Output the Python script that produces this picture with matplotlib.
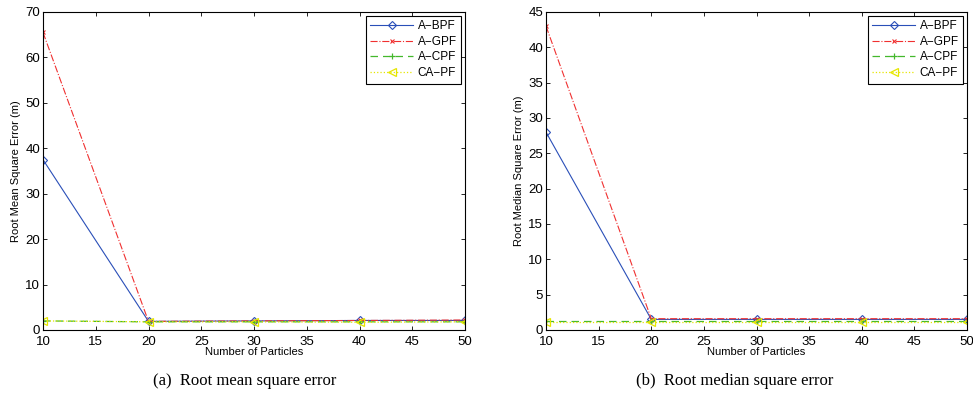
import matplotlib
matplotlib.use('Agg')
from matplotlib import pyplot as plt

# data
particles = [10, 20, 30, 40, 50]

rmse_bpf = [37.5, 1.9, 2.0, 2.1, 2.1]
rmse_gpf = [65.5, 1.9, 2.0, 2.1, 2.2]
rmse_cpf = [2.0, 1.8, 1.8, 1.8, 1.8]
rmse_capf = [2.0, 1.8, 1.8, 1.7, 1.8]

rmdse_bpf = [28.0, 1.5, 1.5, 1.5, 1.5]
rmdse_gpf = [43.0, 1.6, 1.6, 1.6, 1.6]
rmdse_cpf = [1.3, 1.3, 1.3, 1.3, 1.3]
rmdse_capf = [1.2, 1.2, 1.2, 1.2, 1.2]

labels = ['A\u2212BPF', 'A\u2212GPF', 'A\u2212CPF', 'CA\u2212PF']

plt.rcParams['font.family'] = ['Liberation Sans', 'DejaVu Sans']
plt.rcParams['font.size'] = 8

fig = plt.figure(figsize=(9.73, 4.05), dpi=100)
ax1 = fig.add_axes([43 / 973, 75 / 405, 422 / 973, 318 / 405])
ax2 = fig.add_axes([546 / 973, 75 / 405, 421 / 973, 318 / 405])


def draw(ax, bpf, gpf, cpf, capf, ymax, ystep, ylabel):
    ax.plot(particles, bpf, color='#2a4fb8', ls='-', lw=0.8, marker='D',
            mfc='none', ms=4.5, mew=0.8, label=labels[0])
    ax.plot(particles, gpf, color='#f03030', ls='-.', lw=0.8, marker='x',
            ms=3.5, mew=0.8, label=labels[1])
    ax.plot(particles, cpf, color='#44b82c', ls=(0, (6, 4)), lw=0.9, marker='+',
            ms=5, mew=0.9, label=labels[2])
    ax.plot(particles, capf, color='#e6e600', ls=':', lw=0.9, marker='<',
            mfc='none', ms=6, mew=0.9, label=labels[3])
    ax.set_xlim(10, 50)
    ax.set_ylim(0, ymax)
    ax.set_xticks(range(10, 51, 5))
    ax.set_yticks(range(0, ymax + 1, ystep))
    ax.tick_params(direction='in', length=3, width=0.6, top=True, right=True,
                   labelsize=9.5)
    ax.tick_params(axis='x', pad=4.5)
    ax.tick_params(axis='y', pad=2)
    for s in ax.spines.values():
        s.set_linewidth(0.8)
    ax.set_xlabel('Number of Particles', labelpad=-1)
    ax.set_ylabel(ylabel, labelpad=3)
    leg = ax.legend(loc='upper right', fancybox=False, edgecolor='black',
                    framealpha=1, handlelength=3.6, handletextpad=0.4,
                    borderpad=0.4, labelspacing=0.3, fontsize=8.5,
                    borderaxespad=0.3)
    leg.get_frame().set_linewidth(0.8)


draw(ax1, rmse_bpf, rmse_gpf, rmse_cpf, rmse_capf, 70, 10, 'Root Mean Square Error (m)')
draw(ax2, rmdse_bpf, rmdse_gpf, rmdse_cpf, rmdse_capf, 45, 5, 'Root Median Square Error (m)')

fig.text(245 / 973, 1 - 381 / 405, '(a)  Root mean square error', ha='center', va='center',
         family=['Liberation Serif', 'DejaVu Serif'], fontsize=12)
fig.text(735 / 973, 1 - 381 / 405, '(b)  Root median square error', ha='center', va='center',
         family=['Liberation Serif', 'DejaVu Serif'], fontsize=12)

fig.savefig('out.png', dpi=100)
